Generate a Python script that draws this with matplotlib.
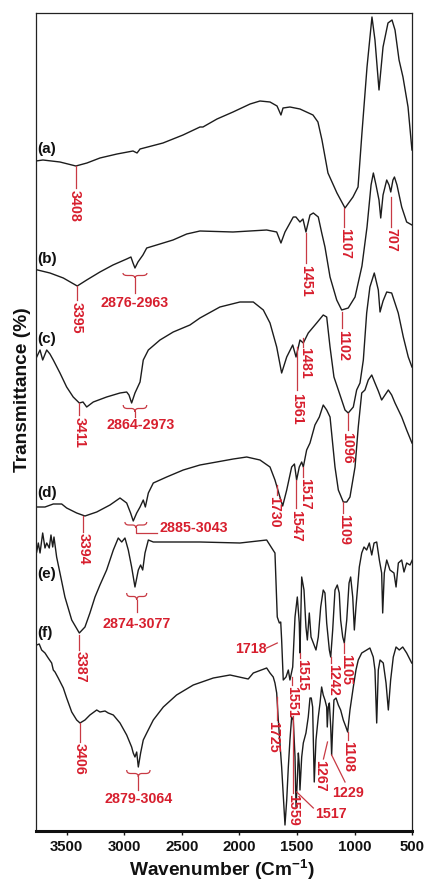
import numpy as np
import matplotlib
matplotlib.use('Agg')
import matplotlib.pyplot as plt
from matplotlib.path import Path
from matplotlib.patches import PathPatch

plt.rcParams['font.family'] = ['Liberation Sans', 'DejaVu Sans']
plt.rcParams['mathtext.fontset'] = 'custom'
plt.rcParams['mathtext.rm'] = 'Liberation Sans:bold'
plt.rcParams['mathtext.bf'] = 'Liberation Sans:bold'
plt.rcParams['mathtext.it'] = 'Liberation Sans:bold'

# ---------------- data (wavenumber, transmittance in arbitrary offset units) ----------------
wn_a = [3767, 3706, 3558, 3420, 3324, 3211, 3063, 2924, 2889, 2863, 2664, 2490, 2343, 2317, 2195,
        2056, 1908, 1822, 1735, 1674, 1640, 1622, 1562, 1475, 1362, 1319, 1284, 1232, 1154, 1084,
        1015, 971, 937, 893, 850, 824, 789, 754, 711, 676, 650, 615, 581, 537, 503]
t_a = [670, 671, 669, 665, 668, 673, 677, 680, 678, 682, 688, 696, 704, 704, 712,
       719, 727, 730, 729, 725, 716, 723, 724, 722, 716, 709, 691, 658, 638, 623,
       634, 644, 698, 764, 814, 791, 741, 784, 808, 811, 801, 771, 754, 724, 681]

wn_b = [3752, 3645, 3529, 3408, 3326, 3211, 3098, 2979, 2942, 2924, 2907, 2881, 2838, 2805, 2719,
        2577, 2458, 2343, 2056, 1764, 1677, 1640, 1605, 1533, 1510, 1475, 1449, 1423, 1388, 1359,
        1316, 1286, 1258, 1214, 1156, 1113, 1056, 997, 937, 893, 858, 838, 815, 789, 774,
        754, 722, 702, 687, 668, 655, 633, 592, 549, 503]
t_b = [561, 558, 553, 545, 551, 559, 566, 572, 574, 568, 563, 569, 576, 583, 586,
       591, 597, 600, 599, 601, 599, 588, 599, 614, 614, 609, 612, 599, 616, 618,
       614, 598, 584, 554, 531, 521, 523, 534, 565, 604, 646, 658, 646, 631, 613,
       636, 651, 646, 639, 651, 654, 646, 624, 609, 606]

wn_c = [3760, 3731, 3708, 3673, 3645, 3616, 3558, 3500, 3443, 3390, 3358, 3326, 3269, 3153, 3037,
        2979, 2959, 2936, 2907, 2863, 2835, 2791, 2690, 2575, 2430, 2343, 2170, 1996, 1880, 1793,
        1735, 1677, 1634, 1590, 1538, 1509, 1475, 1446, 1403, 1330, 1273, 1243, 1214, 1180, 1142,
        1084, 1056, 1012, 983, 954, 925, 896, 868, 830, 795, 780, 754, 722, 679, 622,
        578, 535, 503]
t_c = [474, 481, 471, 481, 477, 471, 458, 444, 434, 428, 429, 424, 429, 434, 438,
       439, 436, 428, 438, 449, 471, 481, 491, 499, 506, 513, 524, 529, 529, 521,
       508, 484, 458, 474, 486, 474, 491, 488, 498, 508, 516, 514, 484, 454, 441,
       421, 418, 424, 441, 448, 471, 518, 544, 558, 541, 519, 530, 539, 538, 518,
       494, 474, 464]

wn_d = [3760, 3688, 3616, 3543, 3500, 3413, 3341, 3239, 3124, 3037, 2979, 2945, 2922, 2892, 2863,
        2835, 2817, 2791, 2748, 2632, 2488, 2343, 2198, 2054, 1937, 1822, 1735, 1692, 1649, 1625,
        1590, 1547, 1523, 1504, 1481, 1460, 1446, 1417, 1388, 1345, 1307, 1273, 1243, 1214, 1171,
        1142, 1099, 1069, 1041, 997, 969, 939, 911, 882, 852, 824, 795, 766, 737, 708,
        679, 650, 592, 549, 503]
t_d = [324, 324, 327, 327, 323, 318, 315, 319, 326, 333, 328, 318, 310, 318, 324,
       331, 324, 338, 348, 354, 361, 366, 369, 372, 374, 371, 364, 351, 334, 325,
       341, 364, 367, 351, 364, 369, 364, 381, 388, 406, 414, 426, 421, 414, 364,
       341, 329, 329, 334, 364, 404, 438, 441, 451, 456, 448, 440, 431, 436, 441,
       436, 428, 414, 401, 388]

wn_e = [3760, 3746, 3731, 3708, 3688, 3673, 3651, 3636, 3621, 3610, 3587, 3558, 3515, 3456, 3390,
        3341, 3298, 3254, 3211, 3153, 3095, 3052, 3022, 2994, 2965, 2936, 2907, 2878, 2858, 2840,
        2820, 2791, 2748, 2343, 1996, 1764, 1720, 1692, 1672, 1654, 1642, 1634, 1620, 1596, 1576,
        1562, 1538, 1518, 1498, 1481, 1475, 1460, 1440, 1423, 1411, 1394, 1379, 1359, 1336, 1316,
        1295, 1273, 1258, 1243, 1220, 1208, 1191, 1171, 1151, 1134, 1122, 1104, 1090, 1069, 1049,
        1035, 1017, 1003, 989, 960, 939, 919, 896, 873, 852, 832, 809, 786, 766, 757,
        743, 722, 694, 659, 641, 621, 592, 572, 549, 520, 500]
t_e = [279, 288, 278, 298, 283, 288, 283, 296, 284, 294, 274, 258, 234, 211, 198,
       204, 218, 234, 246, 261, 281, 293, 289, 293, 281, 264, 244, 261, 266, 261,
       278, 291, 289, 289, 288, 291, 283, 278, 214, 208, 209, 191, 151, 154, 161,
       151, 164, 214, 234, 208, 178, 254, 241, 204, 191, 218, 194, 188, 181, 194,
       224, 241, 238, 208, 181, 174, 201, 241, 246, 238, 211, 194, 188, 211, 248,
       254, 234, 201, 224, 264, 278, 284, 281, 288, 276, 288, 289, 271, 258, 218,
       258, 271, 261, 258, 244, 268, 271, 259, 268, 266, 271]

wn_f = [3760, 3738, 3717, 3688, 3660, 3630, 3616, 3601, 3573, 3529, 3500, 3456, 3413, 3384, 3341,
        3298, 3239, 3211, 3167, 3139, 3095, 3037, 2979, 2936, 2922, 2907, 2892, 2878, 2858, 2835,
        2805, 2748, 2661, 2546, 2401, 2227, 2082, 1924, 1880, 1764, 1735, 1707, 1692, 1677, 1663,
        1634, 1605, 1590, 1576, 1562, 1547, 1533, 1518, 1509, 1498, 1489, 1481, 1475, 1460, 1446,
        1423, 1403, 1388, 1377, 1365, 1359, 1351, 1336, 1316, 1301, 1287, 1273, 1258, 1243, 1238,
        1229, 1220, 1208, 1200, 1191, 1180, 1162, 1142, 1122, 1099, 1076, 1061, 1041, 1012, 989,
        969, 939, 896, 868, 839, 824, 809, 795, 780, 752, 728, 708, 688, 665, 641,
        613, 583, 549, 505]
t_f = [186, 187, 181, 178, 173, 168, 161, 159, 153, 143, 133, 119, 111, 108, 111,
       116, 121, 119, 120, 118, 116, 108, 96, 84, 78, 74, 79, 64, 78, 91,
       98, 111, 124, 136, 146, 153, 156, 152, 158, 163, 158, 154, 148, 138, 111,
       64, 6, 31, 64, 91, 114, 111, 74, 24, 51, 78, 66, 41, 74, 88,
       98, 114, 133, 133, 124, 91, 49, 91, 114, 128, 144, 136, 131, 124, 104,
       124, 128, 104, 76, 104, 131, 133, 126, 121, 111, 104, 99, 121, 144, 161,
       171, 178, 181, 183, 174, 161, 108, 161, 171, 168, 148, 121, 151, 174, 184,
       181, 184, 178, 168]

trace_names = ['(a)', '(b)', '(c)', '(d)', '(e)', '(f)']
trace_label_y = [682, 572, 492, 338, 257, 198]
x_ticks = [3500, 3000, 2500, 2000, 1500, 1000, 500]

# vertical peak markers: label, x line, y top, y bottom, x text, y text top
vert_marks = [
    ('3408', 3420, 665, 643, 3428, 641),
    ('1107', 1093, 623, 604, 1087, 603),
    ('707', 687, 634, 604, 685, 603),
    ('3395', 3408, 545, 531, 3410, 529),
    ('1451', 1423, 598, 568, 1420, 566),
    ('1102', 1108, 519, 503, 1103, 501),
    ('1481', 1446, 493, 484, 1427, 484),
    ('1561', 1503, 484, 441, 1503, 438),
    ('3411', 3390, 428, 416, 3389, 414),
    ('1096', 1056, 418, 401, 1062, 399),
    ('3394', 3356, 315, 299, 3356, 298),
    ('1730', 1677, 346, 336, 1702, 335),
    ('1547', 1509, 351, 323, 1507, 321),
    ('1517', 1446, 364, 354, 1427, 353),
    ('1109', 1099, 329, 318, 1091, 317),
    ('3387', 3390, 196, 181, 3382, 180),
    ('1515', 1475, 178, 173, 1453, 172),
    ('1242', 1208, 174, 168, 1188, 167),
    ('1105', 1091, 188, 178, 1077, 177),
    ('1551', 1547, 154, 146, 1544, 145),
    ('1725', 1677, 134, 111, 1705, 110),
    ('1108', 1061, 99, 91, 1056, 90),
    ('1559', 1538, 115, 38, 1535, 37),
    ('3406', 3384, 108, 89, 3384, 88),
]
# braces: label, x left, x right, y tips, y cusp, y stem end, x text, y text centre
brace_marks = [
    ('2876-2963', 3011, 2803, 558, 553, 538, 2907, 528),
    ('2864-2973', 3009, 2805, 426, 419, 414, 2855, 406),
    ('2874-3077', 2979, 2805, 238, 231, 219, 2890, 207),
    ('2879-3064', 2979, 2776, 61, 54, 41, 2875, 32),
]
# brace with elbow leader (d): label, x left, x right, y tips, y cusp, y elbow, x elbow end, x text, y text
elbow_marks = [('2885-3043', 2994, 2805, 309, 303, 298, 2719, 2690, 303)]
# slanted leaders: label, x0, y0, x1, y1, x text, y text, rotation
slant_marks = [
    ('1718', 1672, 188, 1764, 183, 1900, 182, 0),
    ('1517', 1503, 39, 1359, 23, 1206, 17, 0),
    ('1229', 1200, 76, 1084, 49, 1056, 38, 0),
    ('1267', 1236, 89, 1271, 72, 1297, 71, 270),
]

# ---------------- figure ----------------
W, H = 424, 881
fig = plt.figure(figsize=(W / 100, H / 100), dpi=100)
ax = fig.add_axes([36 / W, 50 / H, 376.3 / W, 818 / H])
ax.set_xlim(3766, 500)
ax.set_ylim(0, 818)

line_col = '#1c1c1c'
red = '#d71f2e'
red_line = '#c83a44'

for wn, t in [(wn_a, t_a), (wn_b, t_b), (wn_c, t_c), (wn_d, t_d), (wn_e, t_e), (wn_f, t_f)]:
    ax.plot(wn, t, color=line_col, lw=1.0, solid_joinstyle='round')

for name, y in zip(trace_names, trace_label_y):
    ax.text(3757, y, name, ha='left', va='center', fontsize=11, fontweight='bold', color='#111111')

afs = 10.3
for lab, xl, y0, y1, xt, yt in vert_marks:
    ax.plot([xl, xl], [y0, y1], color=red_line, lw=0.9)
    ax.text(xt, yt, lab, rotation=270, ha='center', va='top', fontsize=afs,
            fontweight='bold', color=red)


def brace(xl, xr, ytip, ycusp):
    xc = (xl + xr) / 2
    ym = ytip - 0.5 * (ytip - ycusp)
    verts, codes = [], []
    for xe in (xl, xr):
        verts += [(xe, ytip), (xe, ym), (xe + 0.35 * (xc - xe), ym),
                  (xe + 0.7 * (xc - xe), ym), (xc, ym), (xc, ycusp)]
        codes += [Path.MOVETO, Path.CURVE3, Path.CURVE3, Path.LINETO, Path.CURVE3, Path.CURVE3]
    ax.add_patch(PathPatch(Path(verts, codes), fill=False, ec=red_line, lw=0.9))
    return xc


for lab, xl, xr, ytip, ycusp, yend, xt, yt in brace_marks:
    xc = brace(xl, xr, ytip, ycusp)
    ax.plot([xc, xc], [ycusp, yend], color=red_line, lw=0.9)
    ax.text(xt, yt, lab, ha='center', va='center', fontsize=afs, fontweight='bold', color=red)

for lab, xl, xr, ytip, ycusp, yel, xel, xt, yt in elbow_marks:
    xc = brace(xl, xr, ytip, ycusp)
    ax.plot([xc, xc, xel], [ycusp, yel, yel], color=red_line, lw=0.9)
    ax.text(xt, yt, lab, ha='left', va='center', fontsize=afs, fontweight='bold', color=red)

for lab, x0, y0, x1, y1, xt, yt, rot in slant_marks:
    ax.plot([x0, x1], [y0, y1], color=red_line, lw=0.9)
    if rot:
        ax.text(xt, yt, lab, rotation=rot, ha='center', va='top', fontsize=afs,
                fontweight='bold', color=red)
    else:
        ax.text(xt, yt, lab, ha='center', va='center', fontsize=afs, fontweight='bold', color=red)

# axes styling
ax.set_yticks([])
ax.set_xticks(x_ticks)
ax.set_xticklabels([str(v) for v in x_ticks], fontsize=10.8, fontweight='bold')
ax.tick_params(axis='x', direction='out', length=3, width=1, pad=3.5, colors='#111111')
for side in ['top', 'left', 'right']:
    ax.spines[side].set_linewidth(0.9)
    ax.spines[side].set_color('#222222')
ax.spines['bottom'].set_linewidth(2.2)
ax.spines['bottom'].set_color('#111111')

fig.text(222.5 / W, 1 - 870 / H, r'Wavenumber (Cm$^{\mathbf{-1}}$)', ha='center', va='center',
         fontsize=13.8, fontweight='bold', color='#111111')
fig.text(22.5 / W, 1 - 390 / H, 'Transmittance (%)', rotation=90, ha='center', va='center',
         fontsize=13.8, fontweight='bold', color='#111111')

fig.savefig('out.png', dpi=100, facecolor='white')
